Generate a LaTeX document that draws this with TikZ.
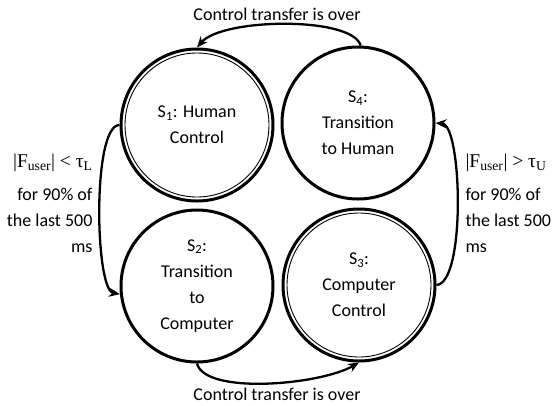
\documentclass[tikz,border=0pt]{standalone}
\usepackage{fontspec}
\setmainfont{Carlito}
\newfontfamily\serifmath{Liberation Serif}
\usetikzlibrary{arrows.meta}

\begin{document}
\begin{tikzpicture}[x=1pt, y=-1pt, font=\fontsize{18pt}{26pt}\selectfont,
            state/.style = {draw, circle, line width=3pt, minimum size=152pt, inner sep=0pt, align=center},
            trans/.style = {-{Stealth[length=11pt, width=9pt]}, line width=2.3pt}]
            \useasboundingbox (0,0) rectangle (553,405);
            \node[state] (s1) at (197,125) {S\textsubscript{1}: Human\\Control};
            \node[state] (s4) at (358,123) {S\textsubscript{4}:\\Transition\\to Human};
            \node[state] (s2) at (197,286) {S\textsubscript{2}:\\Transition\\to\\Computer};
            \node[state] (s3) at (359,285) {S\textsubscript{3}:\\Computer\\Control};
            % accepting states
            \draw[line width=0.9pt] (s1.center) circle (72pt);
            \draw[line width=0.9pt] (s3.center) circle (72pt);
            % labels
            \node (overtop) at (277,14) {Control transfer is over};
            \node (overbot) at (277,394) {Control transfer is over};
            \node[align=right, anchor=east] (lower) at (96,203)
                {{\serifmath\fontsize{19.5pt}{26pt}\selectfont |F\textsubscript{user}| < τ\textsubscript{L}}\\[7pt]for 90\% of\\the last 500\\ms};
            \node[align=left, anchor=west] (upper) at (462,203)
                {{\serifmath\fontsize{19.5pt}{26pt}\selectfont |F\textsubscript{user}| > τ\textsubscript{U}}\\[7pt]for 90\% of\\the last 500\\ms};
            % transitions
            \draw[trans] (s4.88) .. controls (352,16) and (222,18) .. (s1.north);
            \draw[trans] (s2.south) .. controls (205,395) and (320,385) .. (s3.south);
            \draw[trans] (s1.west) .. controls (92,125) and (95,290) .. (s2.186);
            \draw[trans] (s3.east) .. controls (466,283) and (462,125) .. (s4.east);
        \end{tikzpicture}
\end{document}
